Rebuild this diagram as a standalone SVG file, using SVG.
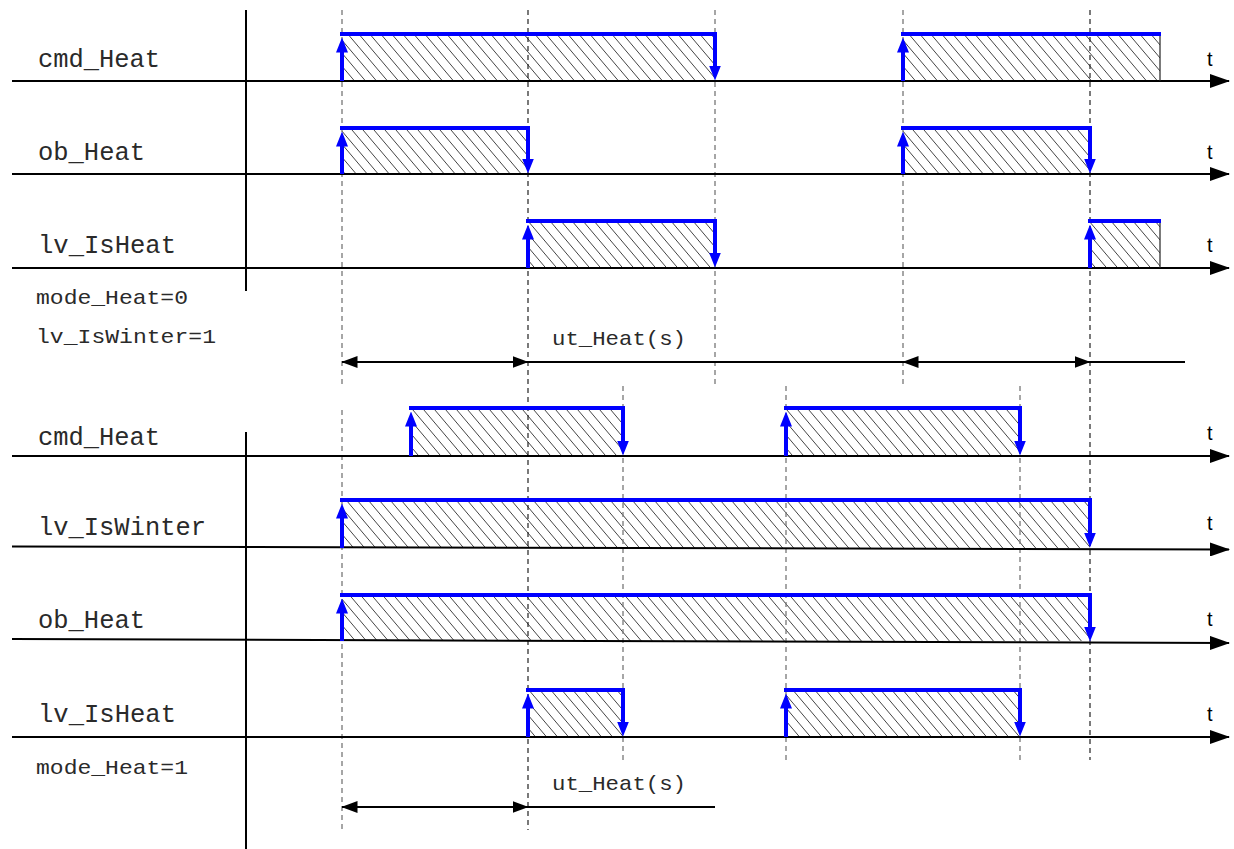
<svg xmlns="http://www.w3.org/2000/svg" width="1234" height="849" viewBox="0 0 1234 849">
<style>
.axis{stroke:#000;stroke-width:2;fill:none}
.vax{stroke:#000;stroke-width:2}
.dg{stroke:#777;stroke-width:1.3;stroke-dasharray:5 4;fill:none}
.dk{stroke:#222;stroke-width:1.2;stroke-dasharray:5 4;fill:none}
.bl{stroke:#0000ff;stroke-width:4;fill:none}
.hat{fill:url(#hatch);stroke:none}
.edge{stroke:#222;stroke-width:1.2}
.lbl{font-family:"Liberation Mono","Courier New",monospace;font-size:25px;fill:#2a2a2a}
.ann{font-family:"Liberation Mono","Courier New",monospace;font-size:21px;fill:#2a2a2a}
.t{font-family:"Liberation Sans",Arial,sans-serif;font-size:20px;fill:#000}
.dim{stroke:#000;stroke-width:2;fill:none}
</style>
<defs>
<pattern id="hatch" patternUnits="userSpaceOnUse" width="11" height="13">
<path d="M-1,-1.18 L12,14.18 M10,-1.18 L12,1.18 M-1,11.82 L1,14.18" stroke="#444" stroke-width="1"/>
</pattern>
<marker id="ax" markerUnits="userSpaceOnUse" viewBox="0 0 20 14" refX="19" refY="7" markerWidth="20" markerHeight="14" orient="auto">
<path d="M0,0 L20,7 L0,14 z" fill="#000"/>
</marker>
<marker id="ba" markerUnits="userSpaceOnUse" viewBox="0 0 15 12" refX="0.5" refY="6" markerWidth="15" markerHeight="12" orient="auto">
<path d="M0,0 L15,6 L0,12 z" fill="#0000ff"/>
</marker>
<marker id="da" markerUnits="userSpaceOnUse" viewBox="0 0 16 12" refX="15.5" refY="6" markerWidth="16" markerHeight="12" orient="auto-start-reverse">
<path d="M0,0 L16,6 L0,12 z" fill="#000"/>
</marker>
</defs>

<!-- hatched pulse areas -->
<g id="hatches">
<rect class="hat" x="342" y="34" width="373" height="47"/>
<rect class="hat" x="903" y="34" width="257" height="47"/>
<rect class="hat" x="342" y="128" width="186" height="46"/>
<rect class="hat" x="903" y="128" width="187" height="46"/>
<rect class="hat" x="528" y="221" width="187" height="47"/>
<rect class="hat" x="1090" y="221" width="70" height="47"/>
<rect class="hat" x="411" y="408" width="212" height="48"/>
<rect class="hat" x="786" y="408" width="234" height="48"/>
<rect class="hat" x="342" y="500" width="748" height="48"/>
<rect class="hat" x="342" y="595" width="748" height="46"/>
<rect class="hat" x="528" y="690" width="95" height="47"/>
<rect class="hat" x="786" y="690" width="234" height="47"/>
</g>

<!-- connectors: time reference lines and dimension arrows -->
<g id="connectors">
<line class="dg" x1="342" y1="10" x2="342" y2="386"/>
<line class="dk" x1="528" y1="10" x2="528" y2="830"/>
<line class="dg" x1="715" y1="10" x2="715" y2="386"/>
<line class="dg" x1="903" y1="10" x2="903" y2="386"/>
<line class="dk" x1="1090" y1="10" x2="1090" y2="760"/>
<line class="dg" x1="342" y1="410" x2="342" y2="830"/>
<line class="dg" x1="623" y1="386" x2="623" y2="760"/>
<line class="dg" x1="786" y1="386" x2="786" y2="760"/>
<line class="dg" x1="1020" y1="386" x2="1020" y2="760"/>
<line class="dim" x1="342" y1="362" x2="528" y2="362" marker-start="url(#da)" marker-end="url(#da)"/>
<line class="dim" x1="528" y1="362" x2="903" y2="362"/>
<line class="dim" x1="903" y1="362" x2="1090" y2="362" marker-start="url(#da)" marker-end="url(#da)"/>
<line class="dim" x1="1090" y1="362" x2="1185" y2="362"/>
<line class="dim" x1="342" y1="807" x2="528" y2="807" marker-start="url(#da)" marker-end="url(#da)"/>
<line class="dim" x1="528" y1="807" x2="715" y2="807"/>
</g>

<g id="vertical-axes">
<line class="vax" x1="246" y1="10" x2="246" y2="291"/>
<line class="vax" x1="246" y1="432" x2="246" y2="849"/>
</g>

<!-- top section -->
<g id="top-cmd_Heat">
<text class="lbl" x="38" y="67" textLength="122" lengthAdjust="spacingAndGlyphs">cmd_Heat</text>
<line class="axis" x1="12" y1="81" x2="1229" y2="81" marker-end="url(#ax)"/>
<text class="t" x="1207" y="66">t</text>
<line class="bl" x1="342" y1="81" x2="342" y2="52" marker-end="url(#ba)"/>
<line class="bl" x1="340" y1="34" x2="717" y2="34"/>
<line class="bl" x1="715" y1="34" x2="715" y2="66" marker-end="url(#ba)"/>
<line class="bl" x1="903" y1="81" x2="903" y2="52" marker-end="url(#ba)"/>
<line class="bl" x1="901" y1="34" x2="1161" y2="34"/>
<line class="edge" x1="1160" y1="36" x2="1160" y2="81"/>
</g>

<g id="top-ob_Heat">
<text class="lbl" x="38" y="160" textLength="107" lengthAdjust="spacingAndGlyphs">ob_Heat</text>
<line class="axis" x1="12" y1="174" x2="1229" y2="174" marker-end="url(#ax)"/>
<text class="t" x="1207" y="159">t</text>
<line class="bl" x1="342" y1="174" x2="342" y2="146" marker-end="url(#ba)"/>
<line class="bl" x1="340" y1="128" x2="530" y2="128"/>
<line class="bl" x1="528" y1="128" x2="528" y2="159" marker-end="url(#ba)"/>
<line class="bl" x1="903" y1="174" x2="903" y2="146" marker-end="url(#ba)"/>
<line class="bl" x1="901" y1="128" x2="1092" y2="128"/>
<line class="bl" x1="1090" y1="128" x2="1090" y2="159" marker-end="url(#ba)"/>
</g>

<g id="top-lv_IsHeat">
<text class="lbl" x="38" y="253" textLength="138" lengthAdjust="spacingAndGlyphs">lv_IsHeat</text>
<line class="axis" x1="12" y1="268" x2="1229" y2="268" marker-end="url(#ax)"/>
<text class="t" x="1207" y="252">t</text>
<line class="bl" x1="528" y1="268" x2="528" y2="239" marker-end="url(#ba)"/>
<line class="bl" x1="526" y1="221" x2="717" y2="221"/>
<line class="bl" x1="715" y1="221" x2="715" y2="253" marker-end="url(#ba)"/>
<line class="bl" x1="1090" y1="268" x2="1090" y2="239" marker-end="url(#ba)"/>
<line class="bl" x1="1088" y1="221" x2="1161" y2="221"/>
<line class="edge" x1="1160" y1="223" x2="1160" y2="268"/>
</g>

<g id="top-notes">
<text class="ann" x="36" y="304" textLength="152" lengthAdjust="spacingAndGlyphs">mode_Heat=0</text>
<text class="ann" x="36" y="343" textLength="180" lengthAdjust="spacingAndGlyphs">lv_IsWinter=1</text>
<text class="ann" x="552" y="345" textLength="134" lengthAdjust="spacingAndGlyphs">ut_Heat(s)</text>
</g>

<!-- bottom section -->
<g id="bottom-cmd_Heat">
<text class="lbl" x="38" y="445" textLength="122" lengthAdjust="spacingAndGlyphs">cmd_Heat</text>
<line class="axis" x1="12" y1="456" x2="1229" y2="456" marker-end="url(#ax)"/>
<text class="t" x="1207" y="440">t</text>
<line class="bl" x1="411" y1="456" x2="411" y2="426" marker-end="url(#ba)"/>
<line class="bl" x1="409" y1="408" x2="625" y2="408"/>
<line class="bl" x1="623" y1="408" x2="623" y2="441" marker-end="url(#ba)"/>
<line class="bl" x1="786" y1="456" x2="786" y2="426" marker-end="url(#ba)"/>
<line class="bl" x1="784" y1="408" x2="1022" y2="408"/>
<line class="bl" x1="1020" y1="408" x2="1020" y2="441" marker-end="url(#ba)"/>
</g>

<g id="bottom-lv_IsWinter">
<text class="lbl" x="38" y="535" textLength="168" lengthAdjust="spacingAndGlyphs">lv_IsWinter</text>
<line class="axis" x1="12" y1="546.5" x2="1229" y2="549.5" marker-end="url(#ax)"/>
<text class="t" x="1207" y="530">t</text>
<line class="bl" x1="342" y1="548" x2="342" y2="518" marker-end="url(#ba)"/>
<line class="bl" x1="340" y1="500" x2="1092" y2="500"/>
<line class="bl" x1="1090" y1="500" x2="1090" y2="533" marker-end="url(#ba)"/>
</g>

<g id="bottom-ob_Heat">
<text class="lbl" x="38" y="628" textLength="107" lengthAdjust="spacingAndGlyphs">ob_Heat</text>
<line class="axis" x1="12" y1="639" x2="1229" y2="643" marker-end="url(#ax)"/>
<text class="t" x="1207" y="626">t</text>
<line class="bl" x1="342" y1="641" x2="342" y2="613" marker-end="url(#ba)"/>
<line class="bl" x1="340" y1="595" x2="1092" y2="595"/>
<line class="bl" x1="1090" y1="595" x2="1090" y2="627" marker-end="url(#ba)"/>
</g>

<g id="bottom-lv_IsHeat">
<text class="lbl" x="38" y="722" textLength="138" lengthAdjust="spacingAndGlyphs">lv_IsHeat</text>
<line class="axis" x1="12" y1="737" x2="1229" y2="737" marker-end="url(#ax)"/>
<text class="t" x="1207" y="721">t</text>
<line class="bl" x1="528" y1="737" x2="528" y2="708" marker-end="url(#ba)"/>
<line class="bl" x1="526" y1="690" x2="625" y2="690"/>
<line class="bl" x1="623" y1="690" x2="623" y2="722" marker-end="url(#ba)"/>
<line class="bl" x1="786" y1="737" x2="786" y2="708" marker-end="url(#ba)"/>
<line class="bl" x1="784" y1="690" x2="1022" y2="690"/>
<line class="bl" x1="1020" y1="690" x2="1020" y2="722" marker-end="url(#ba)"/>
</g>

<g id="bottom-notes">
<text class="ann" x="36" y="774" textLength="152" lengthAdjust="spacingAndGlyphs">mode_Heat=1</text>
<text class="ann" x="552" y="790" textLength="134" lengthAdjust="spacingAndGlyphs">ut_Heat(s)</text>
</g>
</svg>
